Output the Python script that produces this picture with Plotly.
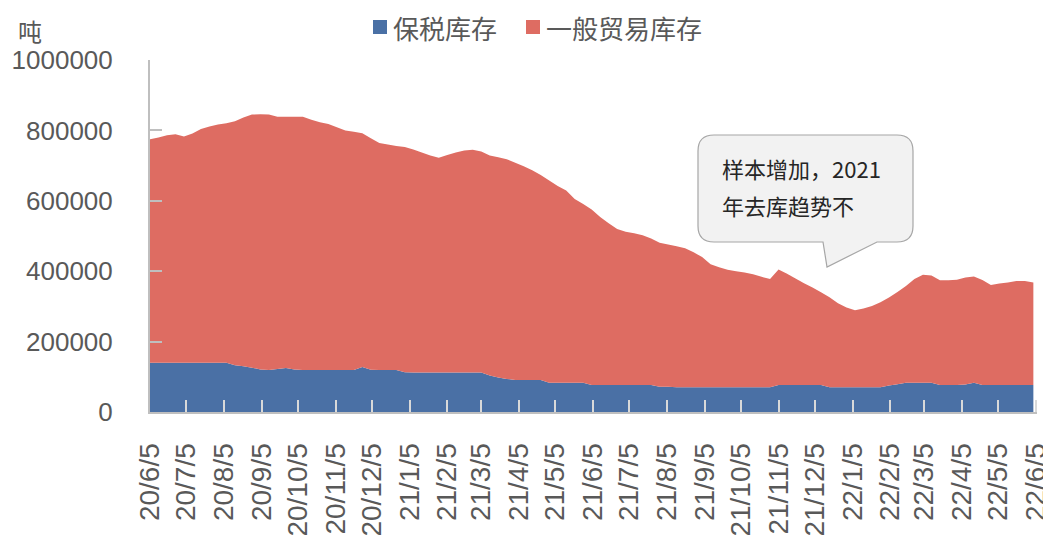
import pandas as pd
import plotly.graph_objects as go

# ---------------- data (tonnes), weekly from 2020-06-05 ----------------
dates = pd.date_range("2020-06-05", periods=105, freq="7D")

bonded = [
    140000, 140000, 140000, 140000, 140000, 140000, 140000, 140000, 140000, 140000,
    133000, 130000, 126000, 121000, 119000, 122000, 125000, 121000, 119000, 119000,
    119000, 119000, 119000, 119000, 119000, 128000, 120000, 119000, 119000, 119000,
    113000, 112000, 112000, 112000, 112000, 112000, 112000, 112000, 112000, 112000,
    104000, 98000, 94000, 91000, 91000, 91000, 91000, 83000, 83000, 83000,
    83000, 83000, 77000, 77000, 77000, 77000, 77000, 77000, 77000, 77000,
    72000, 72000, 70000, 70000, 70000, 70000, 70000, 70000, 70000, 70000,
    70000, 70000, 70000, 70000, 77000, 77000, 77000, 77000, 77000, 77000,
    70000, 70000, 70000, 70000, 70000, 70000, 70000, 75000, 79000, 83000,
    83000, 83000, 83000, 77000, 77000, 77000, 78000, 83000, 77000, 77000,
    77000, 77000, 77000, 77000, 77000,
]

general = [
    635000, 640000, 646000, 649000, 643000, 651000, 664000, 671000, 677000, 680000,
    693000, 707000, 719000, 725000, 726000, 717000, 714000, 718000, 720000, 711000,
    704000, 699000, 690000, 681000, 677000, 664000, 658000, 645000, 641000, 637000,
    640000, 634000, 625000, 617000, 610000, 618000, 625000, 631000, 633000, 628000,
    625000, 626000, 624000, 617000, 607000, 596000, 582000, 575000, 559000, 546000,
    522000, 508000, 498000, 477000, 459000, 443000, 435000, 431000, 425000, 416000,
    409000, 404000, 401000, 395000, 384000, 370000, 350000, 341000, 334000, 330000,
    326000, 321000, 314000, 308000, 328000, 316000, 302000, 289000, 277000, 263000,
    256000, 239000, 227000, 219000, 224000, 231000, 242000, 250000, 262000, 275000,
    295000, 307000, 305000, 297000, 297000, 299000, 304000, 302000, 298000, 284000,
    288000, 291000, 295000, 295000, 291000,
]

series_names = ["保税库存", "一般贸易库存"]
tick_labels = [
    "20/6/5", "20/7/5", "20/8/5", "20/9/5", "20/10/5", "20/11/5", "20/12/5",
    "21/1/5", "21/2/5", "21/3/5", "21/4/5", "21/5/5", "21/6/5", "21/7/5",
    "21/8/5", "21/9/5", "21/10/5", "21/11/5", "21/12/5", "22/1/5", "22/2/5",
    "22/3/5", "22/4/5", "22/5/5", "22/6/5",
]
y_ticks = [0, 200000, 400000, 600000, 800000, 1000000]
unit_label = "吨"
callout_lines = ["样本增加，2021", "年去库趋势不"]

# ---------------- styling ----------------
OFF = 8  # page body margin in the browser
W, H = 1051 - OFF, 546 - OFF
# plot area in reference (window) pixels
RL, RR, RT, RB = 150, 1037, 60, 412
L, R, T, B = RL - OFF, RR - OFF, RT - OFF, RB - OFF
BLUE = "#4A70A5"
RED = "#DE6C62"
GREY_TXT = "#595959"
CJK = "Noto Sans CJK SC, Liberation Sans, sans-serif"
NUM = "Liberation Sans, Arial, sans-serif"

tick_dates = [pd.Timestamp(2000 + int(t.split("/")[0]), int(t.split("/")[1]), 5) for t in tick_labels]
x_end = tick_dates[-1] + pd.Timedelta(days=1)


def px(x, y):
    """reference window pixel -> paper coords"""
    return (x - RL) / (RR - RL), (RB - y) / (RB - RT)


fig = go.Figure()
fig.add_trace(go.Scatter(x=dates, y=bonded, name=series_names[0], mode="none",
                         stackgroup="one", fillcolor=BLUE, showlegend=False,
                         hoverinfo="x+y"))
fig.add_trace(go.Scatter(x=dates, y=general, name=series_names[1], mode="none",
                         stackgroup="one", fillcolor=RED, showlegend=False,
                         hoverinfo="x+y"))

fig.update_layout(
    width=W, height=H,
    margin=dict(l=L, r=W - R, t=T, b=H - B, autoexpand=False),
    paper_bgcolor="white", plot_bgcolor="white",
    showlegend=False,
    font=dict(family=CJK, color=GREY_TXT),
)
fig.update_xaxes(
    type="date", range=[tick_dates[0], x_end], automargin=False,
    tickvals=tick_dates, ticktext=tick_labels, tickangle=-90,
    tickfont=dict(family=NUM, size=28, color=GREY_TXT),
    ticks="inside", ticklen=12, tickwidth=1.5, tickcolor="#d9d9d9",
    showline=True, linecolor="#bfbfbf", linewidth=2,
    showgrid=False, zeroline=False, ticklabelstandoff=18,
    ticklabeloverflow="allow",
)
fig.update_yaxes(
    range=[0, 1000000], tickvals=y_ticks, tickformat="d", automargin=False,
    tickfont=dict(family=NUM, size=26, color=GREY_TXT),
    ticks="inside", ticklen=12, tickwidth=1.5, tickcolor="#bfbfbf",
    showline=True, linecolor="#bfbfbf", linewidth=2,
    showgrid=False, zeroline=False, ticklabelstandoff=30,
)

shapes = []
annotations = []

# legend (manual, square markers)
for (sx, tx, col, name) in [(373, 391, BLUE, series_names[0]), (526, 544, RED, series_names[1])]:
    x0, y0 = px(sx, 34)
    x1, y1 = px(sx + 14, 20)
    shapes.append(dict(type="rect", xref="paper", yref="paper", x0=x0, y0=y0, x1=x1, y1=y1,
                       fillcolor=col, line=dict(width=0)))
    ax, ay = px(tx, 27)
    annotations.append(dict(xref="paper", yref="paper", x=ax, y=ay, text=name, showarrow=False,
                            xanchor="left", yanchor="middle",
                            font=dict(family=CJK, size=26, color=GREY_TXT)))

# unit label
ux, uy = px(30, 30)
annotations.append(dict(xref="paper", yref="paper", x=ux, y=uy, text=unit_label, showarrow=False,
                        xanchor="center", yanchor="middle",
                        font=dict(family=CJK, size=24, color=GREY_TXT)))

# callout bubble
bl, br, bt, bb, r = 698, 913, 135, 242, 16


def P(x, y):
    a, b = px(x, y)
    return f"{a:.5f},{b:.5f}"


path = (
    f"M{P(bl + r, bt)} L{P(br - r, bt)} Q{P(br, bt)} {P(br, bt + r)} "
    f"L{P(br, bb - r)} Q{P(br, bb)} {P(br - r, bb)} "
    f"L{P(877, bb)} L{P(827, 267)} L{P(823, bb)} "
    f"L{P(bl + r, bb)} Q{P(bl, bb)} {P(bl, bb - r)} "
    f"L{P(bl, bt + r)} Q{P(bl, bt)} {P(bl + r, bt)} Z"
)
shapes.append(dict(type="path", xref="paper", yref="paper", path=path,
                   fillcolor="#f2f2f2", line=dict(color="#a6a6a6", width=1.2)))

for line, yy in zip(callout_lines, [168, 205]):
    cx, cy = px(720, yy)
    annotations.append(dict(xref="paper", yref="paper", x=cx, y=cy, text=line, showarrow=False,
                            xanchor="left", yanchor="middle",
                            font=dict(family=CJK, size=22, color="#262626")))

fig.update_layout(shapes=shapes, annotations=annotations)
fig.write_html("out.html")
